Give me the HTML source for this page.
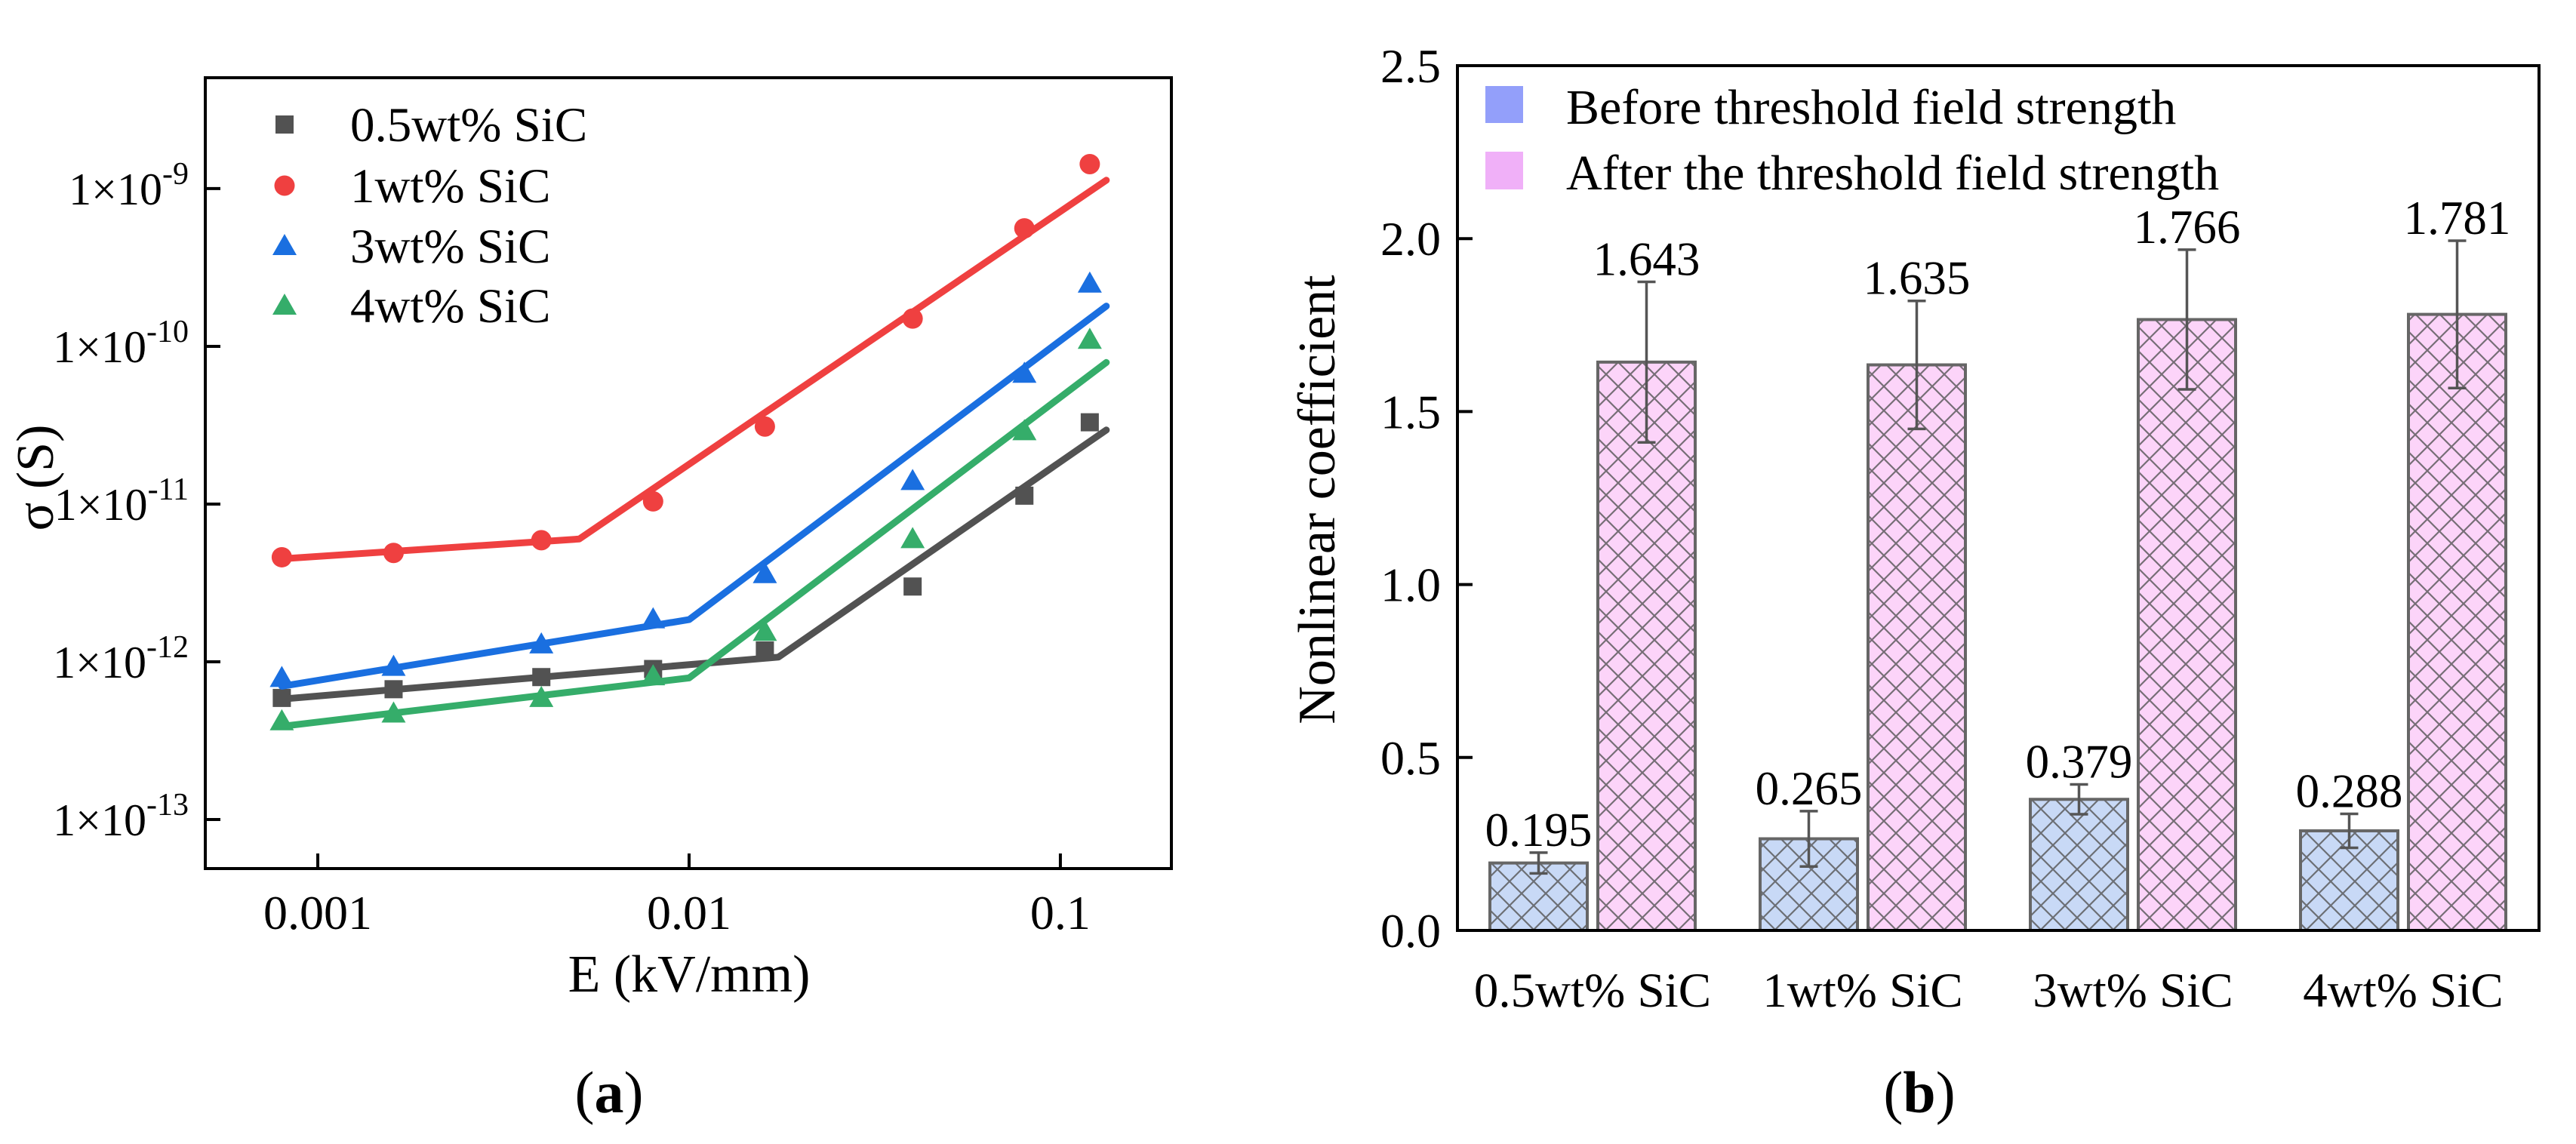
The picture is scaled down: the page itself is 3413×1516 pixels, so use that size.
<!DOCTYPE html>
<html><head><meta charset="utf-8"><style>
body{margin:0;background:#fff}
svg{display:block}
text{font-family:"Liberation Serif",serif;fill:#000}
</style></head><body>
<svg id="fig" width="3413" height="1516" viewBox="0 0 3413 1516" xmlns="http://www.w3.org/2000/svg">
<defs>
<pattern id="hatch" patternUnits="userSpaceOnUse" width="32" height="32">
<path d="M0,0 L32,32 M32,0 L0,32" stroke="#555" stroke-width="2.2" stroke-opacity="0.8"/>
</pattern>
</defs>
<g id="panelA"></g>
<g id="panelB"></g>
</svg>
<script>
// ---------- Panel (a) data ----------
const eField = [0.0008, 0.0016, 0.004, 0.008, 0.016, 0.04, 0.08, 0.12];
const sig05 = [5.9e-13, 6.7e-13, 8.0e-13, 9.0e-13, 1.18e-12, 3.0e-12, 1.13e-11, 3.3e-11];
const sig1 = [4.6e-12, 4.9e-12, 5.9e-12, 1.04e-11, 3.1e-11, 1.5e-10, 5.6e-10, 1.43e-9];
const sig3 = [7.9e-13, 9.3e-13, 1.29e-12, 1.86e-12, 3.6e-12, 1.4e-11, 6.7e-11, 2.5e-10];
const sig4 = [4.2e-13, 4.7e-13, 5.9e-13, 8.1e-13, 1.55e-12, 6.0e-12, 2.9e-11, 1.1e-10];
const fitX05 = [0.0008, 0.0174, 0.133];
const fitY05 = [5.8e-13, 1.07e-12, 2.95e-11];
const fitX1 = [0.0008, 0.00506, 0.133];
const fitY1 = [4.5e-12, 6.0e-12, 1.13e-9];
const fitX3 = [0.0008, 0.01, 0.133];
const fitY3 = [7.0e-13, 1.85e-12, 1.8e-10];
const fitX4 = [0.0008, 0.01, 0.133];
const fitY4 = [3.9e-13, 7.9e-13, 7.9e-11];
const xTicksA = [0.001, 0.01, 0.1];
const xTickLabelsA = ["0.001", "0.01", "0.1"];
const yTicksExp = [-9, -10, -11, -12, -13];

// ---------- Panel (b) data ----------
const categories = ["0.5wt% SiC", "1wt% SiC", "3wt% SiC", "4wt% SiC"];
const beforeVals = [0.195, 0.265, 0.379, 0.288];
const beforeErr = [0.03, 0.08, 0.043, 0.049];
const afterVals = [1.643, 1.635, 1.766, 1.781];
const afterErr = [0.232, 0.185, 0.202, 0.213];
const yTicksB = [0, 0.5, 1.0, 1.5, 2.0, 2.5];
const yTickLabelsB = ["0.0", "0.5", "1.0", "1.5", "2.0", "2.5"];

const NS = "http://www.w3.org/2000/svg";
function mk(parent, tag, attrs, txt){const e=document.createElementNS(NS,tag);for(const k in attrs)e.setAttribute(k,attrs[k]);if(txt!==undefined)e.textContent=txt;parent.appendChild(e);return e;}

// ---------- Panel (a) ----------
const A = document.getElementById('panelA');
const aL=272,aR=1552,aT=103,aB=1151;
const xLogMin=-3.303,xLogMax=-0.701,yLogMin=-13.311,yLogMax=-8.297;
function ax(v){return aL+(Math.log10(v)-xLogMin)/(xLogMax-xLogMin)*(aR-aL);}
function ay(v){return aB-(Math.log10(v)-yLogMin)/(yLogMax-yLogMin)*(aB-aT);}

const series=[
 {name:'0.5wt% SiC',key:'05',data:sig05,fx:fitX05,fy:fitY05,color:'#525252',shape:'square'},
 {name:'1wt% SiC',key:'1',data:sig1,fx:fitX1,fy:fitY1,color:'#ef4040',shape:'circle'},
 {name:'3wt% SiC',key:'3',data:sig3,fx:fitX3,fy:fitY3,color:'#1a6fe0',shape:'triangle'},
 {name:'4wt% SiC',key:'4',data:sig4,fx:fitX4,fy:fitY4,color:'#35ad6a',shape:'triangle'}
];
function marker(g,shape,cx,cy,color){
  let e;
  if(shape==='square') e=mk(g,'rect',{x:cx-12,y:cy-12,width:24,height:24,fill:color});
  else if(shape==='circle') e=mk(g,'circle',{cx:cx,cy:cy,r:13.5,fill:color});
  else e=mk(g,'polygon',{points:`${cx},${cy-16} ${cx+16},${cy+12} ${cx-16},${cy+12}`,fill:color});
  return e;
}
const clipA=mk(document.querySelector('defs'),'clipPath',{id:'clipA'});
mk(clipA,'rect',{x:aL,y:aT,width:aR-aL,height:aB-aT});
const plotA=mk(A,'g',{'clip-path':'url(#clipA)'});


series.forEach(s=>{
  const g=mk(plotA,'g',{});
  
  
  const pts=s.fx.map((x,i)=>ax(x).toFixed(1)+','+ay(s.fy[i]).toFixed(1)).join(' ');
  const ln=mk(g,'polyline',{points:pts,fill:'none',stroke:s.color,'stroke-width':9,'stroke-linejoin':'round','stroke-linecap':'round'});
  
  
  s.data.forEach((v,i)=>{
    const m=marker(g,s.shape,ax(eField[i]),ay(v),s.color);
    
    
  });
});
const frameA=mk(A,'rect',{x:aL,y:aT,width:aR-aL,height:aB-aT,fill:'none',stroke:'#000','stroke-width':4});


xTicksA.forEach((t,i)=>{
  const x=ax(t);
  const tk=mk(A,'line',{x1:x,y1:aB,x2:x,y2:aB-20,stroke:'#000','stroke-width':4});
  
  
  const lb=mk(A,'text',{x:x,y:aB+80,'font-size':64,'text-anchor':'middle'},xTickLabelsA[i]);
  
  
});
yTicksExp.forEach(ex=>{
  const y=ay(Math.pow(10,ex));
  const tk=mk(A,'line',{x1:aL,y1:y,x2:aL+20,y2:y,stroke:'#000','stroke-width':4});
  
  
  const lb=mk(A,'text',{x:aL-22,y:y+21,'font-size':60,'text-anchor':'end'});
  
  
  mk(lb,'tspan',{},'1×10');
  mk(lb,'tspan',{'font-size':42,dy:-27},String(ex));
});
const xt=mk(A,'text',{x:913,y:1314,'font-size':70,'text-anchor':'middle'},'E (kV/mm)');


const yt=mk(A,'text',{x:0,y:0,'font-size':70,'text-anchor':'middle',transform:'translate(70,633) rotate(-90)'},'σ (S)');


const legY=[165,246,326,405];
series.forEach((s,i)=>{
  const g=mk(A,'g',{});
  
  
  marker(g,s.shape,377,legY[i],s.color);
  mk(g,'text',{x:464,y:legY[i]+22,'font-size':65},s.name);
});
const capA=mk(A,'text',{x:807,y:1474,'font-size':78,'text-anchor':'middle'});


mk(capA,'tspan',{},'(');mk(capA,'tspan',{'font-weight':'bold'},'a');mk(capA,'tspan',{},')');

// ---------- Panel (b) ----------
const B=document.getElementById('panelB');
const bL=1931,bR=3364,bT=87,bB=1233,bMax=2.5;
function by(v){return bB-v/bMax*(bB-bT);}
const groupStart=1974,groupStep=358,barW=129,barGap=14;
function barX(i,k){return groupStart+i*groupStep+k*(barW+barGap);}
function drawBar(i,k,val,err,fill,label){
  const g=mk(B,'g',{});
  
  
  const x=barX(i,k),y=by(val);
  mk(g,'rect',{x:x,y:y,width:barW,height:bB-y,fill:fill});
  mk(g,'rect',{x:x,y:y,width:barW,height:bB-y,fill:'url(#hatch)',stroke:'#666','stroke-width':4});
  const cx=x+barW/2,yt=by(val+err),yb=by(val-err);
  const eb=mk(g,'path',{d:`M${cx},${yt}V${yb}M${cx-12},${yt}H${cx+12}M${cx-12},${yb}H${cx+12}`,stroke:'#555','stroke-width':3.5,fill:'none'});
  
  
  const t=mk(g,'text',{x:cx,y:yt-9,'font-size':63,'text-anchor':'middle'},label);
  
  
}
categories.forEach((c,i)=>{
  drawBar(i,0,beforeVals[i],beforeErr[i],'#c8d9f6',beforeVals[i].toFixed(3));
  drawBar(i,1,afterVals[i],afterErr[i],'#fcd4f9',afterVals[i].toFixed(3));
  const cl=mk(B,'text',{x:barX(i,0)+barW+barGap/2,y:1334,'font-size':65,'text-anchor':'middle'},c);
  
  
});
const frameB=mk(B,'rect',{x:bL,y:bT,width:bR-bL,height:bB-bT,fill:'none',stroke:'#000','stroke-width':4});


yTicksB.forEach((t,i)=>{
  const y=by(t);
  const tk=mk(B,'line',{x1:bL,y1:y,x2:bL+20,y2:y,stroke:'#000','stroke-width':4});
  
  
  const lb=mk(B,'text',{x:bL-22,y:y+22,'font-size':64,'text-anchor':'end'},yTickLabelsB[i]);
  
  
});
const ytb=mk(B,'text',{x:0,y:0,'font-size':70,'text-anchor':'middle',transform:'translate(1768,662) rotate(-90)'},'Nonlinear coefficient');


const lg1=mk(B,'g',{});


mk(lg1,'rect',{x:1968,y:114,width:50,height:49,fill:'#939ffa'});
mk(lg1,'text',{x:2075,y:164,'font-size':66},'Before threshold field strength');
const lg2=mk(B,'g',{});


mk(lg2,'rect',{x:1968,y:201,width:50,height:50,fill:'#f0b0f8'});
mk(lg2,'text',{x:2075,y:251,'font-size':66},'After the threshold field strength');
const capB=mk(B,'text',{x:2543,y:1474,'font-size':78,'text-anchor':'middle'});


mk(capB,'tspan',{},'(');mk(capB,'tspan',{'font-weight':'bold'},'b');mk(capB,'tspan',{},')');
</script>
</body></html>
